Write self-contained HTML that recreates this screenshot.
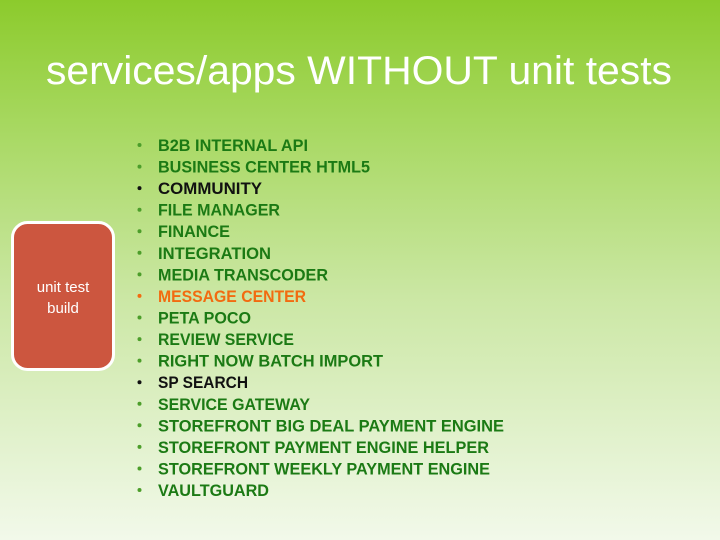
<!DOCTYPE html>
<html><head><style>
html,body{margin:0;padding:0;}
body{width:720px;height:540px;overflow:hidden;background:linear-gradient(to bottom,#8ccb2c 0%,#a9d964 25%,#cbe7a4 55%,#f2f9ea 100%);}
</style></head><body>
<svg width="720" height="540" xmlns="http://www.w3.org/2000/svg" style="position:absolute;left:0;top:0">
<text x="46" y="84" font-family="Liberation Sans, sans-serif" font-size="40" fill="#fff" textLength="626" lengthAdjust="spacingAndGlyphs">services/apps WITHOUT unit tests</text>
<rect x="12.5" y="222.5" width="101" height="147" rx="15" fill="#cc563f" stroke="#fff" stroke-width="3"/>
<text x="63" y="292" font-family="Liberation Sans, sans-serif" font-size="15" fill="#fff" text-anchor="middle">unit test</text>
<text x="63" y="313" font-family="Liberation Sans, sans-serif" font-size="15" fill="#fff" text-anchor="middle">build</text>
<g font-family="Liberation Sans, sans-serif" font-size="17" font-weight="bold" lengthAdjust="spacingAndGlyphs">
<g fill="#1b7a14">
<text x="158" y="151" textLength="150" lengthAdjust="spacingAndGlyphs">B2B INTERNAL API</text>
<text x="158" y="172.6" textLength="212" lengthAdjust="spacingAndGlyphs">BUSINESS CENTER HTML5</text>
<text x="158" y="215.7" textLength="122" lengthAdjust="spacingAndGlyphs">FILE MANAGER</text>
<text x="158" y="237.2" textLength="72" lengthAdjust="spacingAndGlyphs">FINANCE</text>
<text x="158" y="258.8" textLength="113" lengthAdjust="spacingAndGlyphs">INTEGRATION</text>
<text x="158" y="280.4" textLength="170" lengthAdjust="spacingAndGlyphs">MEDIA TRANSCODER</text>
<text x="158" y="323.5" textLength="93" lengthAdjust="spacingAndGlyphs">PETA POCO</text>
<text x="158" y="345.1" textLength="136" lengthAdjust="spacingAndGlyphs">REVIEW SERVICE</text>
<text x="158" y="366.6" textLength="225" lengthAdjust="spacingAndGlyphs">RIGHT NOW BATCH IMPORT</text>
<text x="158" y="409.8" textLength="152" lengthAdjust="spacingAndGlyphs">SERVICE GATEWAY</text>
<text x="158" y="431.3" textLength="346" lengthAdjust="spacingAndGlyphs">STOREFRONT  BIG DEAL PAYMENT ENGINE</text>
<text x="158" y="452.9" textLength="331" lengthAdjust="spacingAndGlyphs">STOREFRONT PAYMENT ENGINE HELPER</text>
<text x="158" y="474.5" textLength="332" lengthAdjust="spacingAndGlyphs">STOREFRONT WEEKLY PAYMENT ENGINE</text>
<text x="158" y="496" textLength="111" lengthAdjust="spacingAndGlyphs">VAULTGUARD</text>
</g>
<text x="158" y="194.1" fill="#111" textLength="104" lengthAdjust="spacingAndGlyphs">COMMUNITY</text>
<text x="158" y="301.9" fill="#f26b10" textLength="148" lengthAdjust="spacingAndGlyphs">MESSAGE CENTER</text>
<text x="158" y="388.2" fill="#111" textLength="90" lengthAdjust="spacingAndGlyphs">SP SEARCH</text>
</g>
<g fill="#4c9e2a">
<circle cx="139.5" cy="145" r="2"/><circle cx="139.5" cy="166.6" r="2"/>
<circle cx="139.5" cy="209.7" r="2"/><circle cx="139.5" cy="231.2" r="2"/><circle cx="139.5" cy="252.8" r="2"/><circle cx="139.5" cy="274.4" r="2"/>
<circle cx="139.5" cy="317.5" r="2"/><circle cx="139.5" cy="339.1" r="2"/><circle cx="139.5" cy="360.6" r="2"/>
<circle cx="139.5" cy="403.8" r="2"/><circle cx="139.5" cy="425.3" r="2"/><circle cx="139.5" cy="446.9" r="2"/><circle cx="139.5" cy="468.5" r="2"/><circle cx="139.5" cy="490" r="2"/>
</g>
<circle cx="139.5" cy="188.1" r="2" fill="#111"/>
<circle cx="139.5" cy="295.9" r="2" fill="#f26b10"/>
<circle cx="139.5" cy="382.2" r="2" fill="#111"/>
</svg>
</body></html>
